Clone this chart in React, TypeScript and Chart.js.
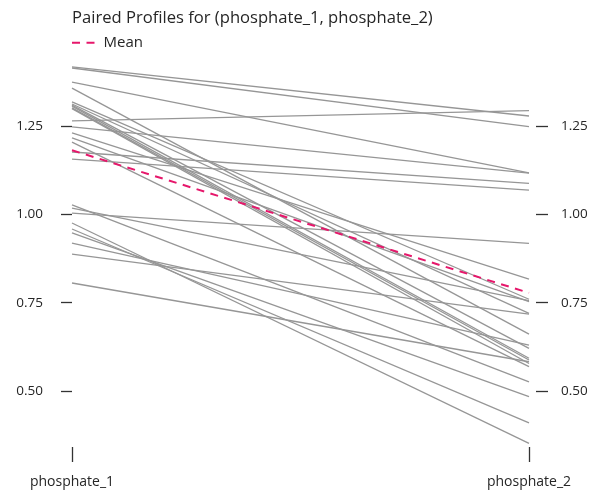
import React, { useEffect, useRef } from 'react';
import { Chart, registerables } from 'chart.js';

Chart.register(...registerables);

const categories = ['phosphate_1', 'phosphate_2'];

// one entry per subject (paired values)
const phosphate1 = [
  1.265, 1.418, 1.415, 1.375, 1.248, 1.177, 1.157, 1.358, 1.231, 1.319, 1.313, 1.31, 1.307,
  1.302, 1.3, 1.217, 1.205, 1.004, 1.027, 1.018, 0.976, 0.959, 0.948, 0.919, 0.888, 0.806,
];
const phosphate2 = [
  1.294, 1.279, 1.249, 1.118, 1.117, 1.088, 1.069, 0.661, 0.817, 0.76, 0.72, 0.621, 0.593,
  0.588, 0.578, 0.753, 0.569, 0.918, 0.526, 0.756, 0.352, 0.41, 0.484, 0.63, 0.718, 0.583,
];
const meanProfile = [1.182, 0.778];

const yTickValues = [0.5, 0.75, 1.0, 1.25];
const titleText = 'Paired Profiles for (phosphate_1, phosphate_2)';
const meanLabel = 'Mean';

const Y_MIN = 0.35;
const Y_MAX = 1.437;

export default function App() {
  const ref = useRef<HTMLCanvasElement>(null);

  useEffect(() => {
    const canvas = ref.current;
    if (!canvas) return;
    const family = "'Open Sans', 'Noto Sans', sans-serif";
    const textColor = '#262626';
    const tickColor = '#333333';

    const datasets: any[] = [
      {
        label: meanLabel,
        data: meanProfile,
        borderColor: '#e6176b',
        backgroundColor: 'rgba(0,0,0,0)',
        borderWidth: 2,
        borderDash: [8, 6.5],
        pointRadius: 0,
        pointStyle: 'line',
        yAxisID: 'y',
        clip: false,
      },
      ...phosphate1.map((v, i) => ({
        label: '',
        data: [v, phosphate2[i]],
        borderColor: '#969696',
        borderWidth: 1.3,
        pointRadius: 0,
        yAxisID: 'y',
        clip: false,
      })),
    ];

    const tickGrid = (gap: number, len: number) => ({
      display: true,
      drawOnChartArea: false,
      drawTicks: true,
      tickLength: gap + len,
      tickBorderDash: [len, gap],
      tickBorderDashOffset: len,
      tickColor,
      tickWidth: 1.3,
    });

    const yTicks = {
      color: textColor,
      font: { family, size: 13.5 },
      callback: (v: any) => Number(v).toFixed(2),
    };

    const chart = new Chart(canvas, {
      type: 'line',
      data: { labels: categories, datasets },
      options: {
        responsive: false,
        animation: false,
        events: [],
        layout: { padding: 0 },
        plugins: {
          tooltip: { enabled: false },
          title: {
            display: true,
            text: titleText,
            align: 'start',
            fullSize: false,
            color: textColor,
            font: { family, size: 16.6, weight: 'normal' },
            padding: { top: 8.5, bottom: 6.8 },
          },
          legend: {
            display: true,
            position: 'top',
            align: 'start',
            fullSize: false,
            labels: {
              color: textColor,
              font: { family, size: 15 },
              usePointStyle: true,
              pointStyle: 'line',
              pointStyleWidth: 24,
              padding: 0,
              generateLabels: (c: any) => {
                const items = Chart.defaults.plugins.legend.labels.generateLabels(c);
                return items
                  .filter((it: any) => it.datasetIndex === 0)
                  .map((it: any) => ({
                    ...it,
                    lineDash: c.data.datasets[it.datasetIndex].borderDash,
                    strokeStyle: c.data.datasets[it.datasetIndex].borderColor,
                    lineWidth: c.data.datasets[it.datasetIndex].borderWidth,
                  }));
              },
            },
          },
        },
        scales: {
          x: {
            type: 'category',
            offset: false,
            border: { display: false },
            grid: tickGrid(3, 15) as any,
            ticks: { color: textColor, font: { family, size: 14 }, padding: 12, maxRotation: 0 },
            afterFit: (s: any) => {
              s.height = 48;
            },
          },
          y: {
            type: 'linear',
            position: 'left',
            min: Y_MIN,
            max: Y_MAX,
            border: { display: false },
            grid: tickGrid(7, 11) as any,
            ticks: { ...yTicks, padding: 11 },
            afterBuildTicks: (s: any) => {
              s.ticks = yTickValues.map((value) => ({ value }));
            },
            afterFit: (s: any) => {
              s.width = 72;
            },
          },
          y2: {
            type: 'linear',
            position: 'right',
            min: Y_MIN,
            max: Y_MAX,
            border: { display: false },
            grid: tickGrid(7, 12) as any,
            ticks: { ...yTicks, padding: 13 },
            afterBuildTicks: (s: any) => {
              s.ticks = yTickValues.map((value) => ({ value }));
            },
            afterFit: (s: any) => {
              s.width = 65;
            },
          },
        },
      } as any,
    });

    return () => chart.destroy();
  }, []);

  return (
    <div style={{ position: 'fixed', left: 0, top: 0, width: 594, height: 492, background: '#ffffff' }}>
      <canvas ref={ref} width={594} height={492} style={{ display: 'block' }} />
    </div>
  );
}
